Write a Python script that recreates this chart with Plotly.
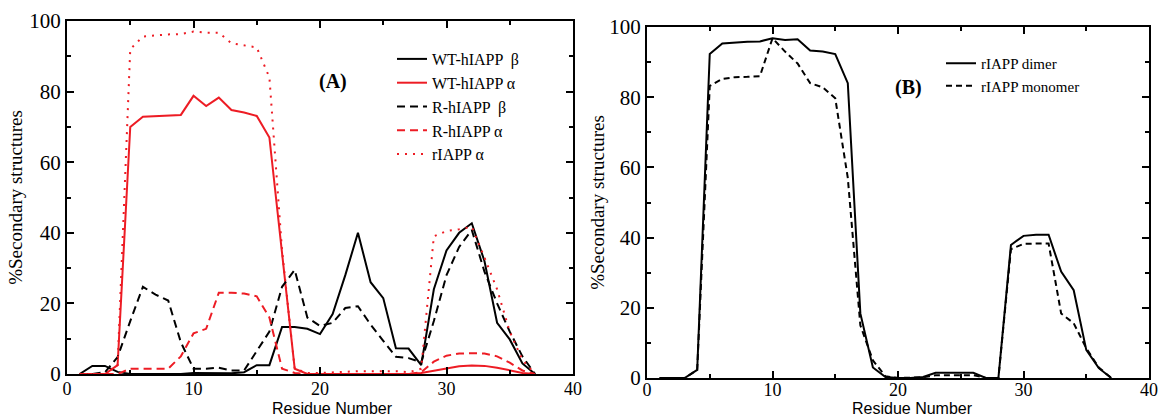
import plotly.graph_objects as go

residues = list(range(1, 38))

# Panel A
wt_beta = [0, 2.3, 2.3, 0.6, 0, 0, 0, 0, 0, 0.3, 0.3, 0.3, 0.2, 0.5, 2.5, 2.5, 13.3, 13.3, 12.8, 11.3,
           17, 28, 40, 26, 21.5, 7.3, 7.2, 2.5, 24, 35, 40, 42.7, 32, 14.5, 9.8, 3, 0]
wt_alpha = [0, 0, 0, 2.5, 70, 72.9, 73.1, 73.2, 73.4, 78.8, 75.9, 78.3, 74.8, 74.1, 73.1, 67, 34, 1.5, 0, 0,
            0, 0, 0, 0, 0, 0, 0, 0.3, 1, 1.6, 2.2, 2.4, 2.3, 1.8, 1, 0.3, 0]
r_beta = [0, 0, 0.5, 4.8, 15, 24.7, 22.5, 20.8, 9, 1.5, 1.5, 1.8, 1, 1, 6.5, 12, 24.7, 29.5, 16, 13.6,
          14.5, 18.7, 19.2, 14, 9.4, 4.9, 4.5, 3.3, 15, 28, 36, 40.8, 29, 20, 12, 5, 0]
r_alpha = [0, 0, 0, 0, 1.5, 1.5, 1.5, 1.5, 5, 11.5, 12.8, 23, 23, 22.8, 22, 16, 1.5, 0.3, 0, 0,
           0, 0, 0, 0, 0, 0, 0, 0.5, 3.5, 5.2, 5.8, 5.9, 5.8, 5, 3.2, 1, 0]
rat_alpha = [0, 0, 0, 2.5, 92, 95.6, 96, 96.2, 96.3, 97, 96.7, 96.7, 93.7, 93.2, 92.5, 84, 35, 1.5, 0.3, 0.3,
             0.5, 0.8, 0.8, 0.8, 0.8, 0.8, 0.5, 1.5, 39, 40.5, 41, 41.7, 33, 24, 12, 4, 0]

# Panel B
dimer = [0, 0, 0, 2.3, 92.3, 95.3, 95.6, 95.8, 95.9, 96.8, 96.3, 96.5, 93.3, 93, 92.3, 84, 18.4, 3, 0.3, 0,
         0, 0.3, 1.5, 1.5, 1.5, 1.5, 0, 0, 37.9, 40.5, 40.8, 40.8, 30.3, 25, 8, 2.8, 0]
monomer = [0, 0, 0, 2.3, 83.2, 85.2, 85.7, 85.8, 86, 96.8, 93, 89.6, 84, 82.8, 79.7, 57, 15, 5, 0.5, 0,
           0, 0.2, 0.8, 0.8, 0.8, 0.8, 0, 0, 36.7, 38.2, 38.3, 38.3, 18.4, 15.6, 8.5, 3, 0]

x_ticks = [0, 10, 20, 30, 40]
y_ticks = [0, 20, 40, 60, 80, 100]

RED = "#ED1C24"
SERIF = "Liberation Serif"
SANS = "Liberation Sans"

fig = go.Figure()

def add(y, name, color, dash, xa, ya, legend):
    fig.add_trace(go.Scatter(x=residues, y=y, name=name, mode="lines",
                             line=dict(color=color, width=2, dash=dash),
                             xaxis=xa, yaxis=ya, legend=legend))

add(wt_beta, "WT-hIAPP  β", "black", "solid", "x", "y", "legend")
add(wt_alpha, "WT-hIAPP α", RED, "solid", "x", "y", "legend")
add(r_beta, "R-hIAPP  β", "black", "8px,5px", "x", "y", "legend")
add(r_alpha, "R-hIAPP α", RED, "8px,5px", "x", "y", "legend")
add(rat_alpha, "rIAPP α", RED, "2px,6px", "x", "y", "legend")
add(dimer, "rIAPP dimer", "black", "solid", "x2", "y2", "legend2")
add(monomer, "rIAPP monomer", "black", "6px,4px", "x2", "y2", "legend2")

W, H = 1161, 417

def xax(domain, standoff):
    return dict(domain=domain, range=[0, 40], tickvals=x_ticks, ticks="inside", ticklen=7,
                tickwidth=1.5, tickcolor="black", showline=True, linewidth=2, linecolor="black",
                mirror="allticks", showgrid=False, zeroline=False, automargin=False,
                ticklabelstandoff=standoff,
                tickfont=dict(family=SERIF, size=18, color="black"),
                minor=dict(dtick=5, ticks="inside", ticklen=4, tickcolor="black", tickwidth=1.5, showgrid=False))

def yax(domain, anchor, standoff):
    return dict(domain=domain, range=[0, 100], tickvals=y_ticks, ticks="inside", ticklen=7,
                tickwidth=1.5, tickcolor="black", showline=True, linewidth=2, linecolor="black",
                mirror="allticks", showgrid=False, zeroline=False, anchor=anchor, automargin=False,
                tickfont=dict(family=SERIF, size=21, color="black"),
                title=dict(text="%Secondary structures", font=dict(family=SERIF, size=19, color="black"),
                           standoff=standoff),
                minor=dict(dtick=10, ticks="inside", ticklen=4, tickcolor="black", tickwidth=1.5, showgrid=False))

def note(text, x, y, family, size):
    return dict(text=text, x=x / W, y=1 - y / H, xref="paper", yref="paper", showarrow=False,
                xanchor="center", yanchor="middle", font=dict(family=family, size=size, color="black"))

fig.update_layout(
    template="none",
    width=W, height=H, margin=dict(l=0, r=0, t=0, b=0, autoexpand=False),
    paper_bgcolor="white", plot_bgcolor="white",
    xaxis=dict(xax([67 / W, 573 / W], -3), anchor="y"),
    yaxis=yax([1 - 374 / H, 1 - 21 / H], "x", 2),
    xaxis2=dict(xax([647 / W, 1149 / W], -6), anchor="y2"),
    yaxis2=yax([1 - 378 / H, 1 - 27 / H], "x2", 0),
    legend=dict(x=392 / W, y=1 - 42 / H, xanchor="left", yanchor="top", bgcolor="rgba(0,0,0,0)",
                borderwidth=0, font=dict(family=SERIF, size=16, color="black"), itemwidth=30,
                traceorder="normal"),
    legend2=dict(x=941 / W, y=1 - 47 / H, xanchor="left", yanchor="top", bgcolor="rgba(0,0,0,0)",
                 borderwidth=0, font=dict(family=SERIF, size=15, color="black"), itemwidth=30,
                 traceorder="normal"),
    showlegend=True,
    annotations=[
        note("<b>(A)</b>", 333, 81, SERIF, 20),
        note("<b>(B)</b>", 908, 87, SERIF, 20),
        note("Residue Number", 332, 408, SANS, 16),
        note("Residue Number", 912, 408.5, SANS, 16),
    ],
)

fig.write_html("out.html", config={"displayModeBar": False},
               post_script="document.body.style.margin='0';document.body.style.overflow='hidden';")
